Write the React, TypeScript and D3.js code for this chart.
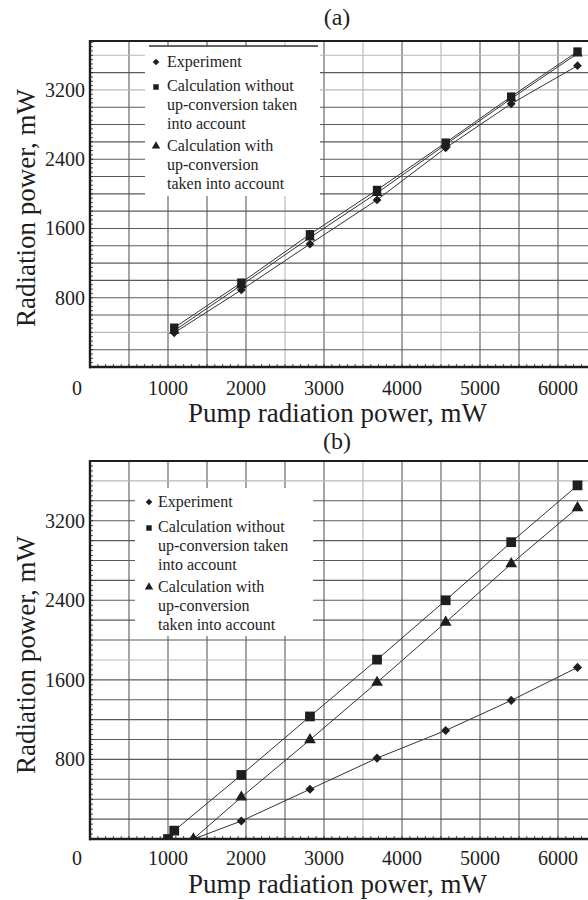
import React from "react";
import * as d3 from "d3";

// ---------- data ----------
const xTickValues = [1000, 2000, 3000, 4000, 5000, 6000];
const yTickValues = [800, 1600, 2400, 3200];

// panel (a)
const pumpA = [1080, 1940, 2820, 3680, 4560, 5400, 6250];
const expA = [395, 890, 1420, 1930, 2530, 3040, 3480];
const noUcA = [454, 974, 1533, 2045, 2591, 3123, 3643];
const ucA = [420, 945, 1495, 2010, 2570, 3100, 3620];

// panel (b)
const pumpExpB = [1330, 1940, 2820, 3680, 4560, 5400, 6250];
const expB = [0, 181, 500, 813, 1091, 1393, 1725];
const pumpNoUcB = [1000, 1080, 1940, 2820, 3680, 4560, 5400, 6250];
const noUcB = [0, 84, 644, 1232, 1803, 2400, 2984, 3555];
const pumpUcB = [1325, 1940, 2820, 3680, 4560, 5400, 6250];
const ucB = [0, 420, 997, 1574, 2178, 2766, 3330];

const legendLabels = [
  ["Experiment"],
  ["Calculation without", "up-conversion taken", "into account"],
  ["Calculation with", "up-conversion", "taken into account"],
];

const FONT = "'Liberation Serif', 'Times New Roman', serif";
const INK = "#1e1e1e";

type Series = { xs: number[]; ys: number[]; kind: "diamond" | "square" | "triangle" };

function markerPath(kind: string, size: number) {
  if (kind === "square") return d3.symbol(d3.symbolSquare, size)() as string;
  if (kind === "triangle") return d3.symbol(d3.symbolTriangle, size)() as string;
  return d3.symbol(d3.symbolSquare, size)() as string;
}

function Marker({ kind, x, y, size }: { kind: string; x: number; y: number; size: number }) {
  const rot = kind === "diamond" ? ` rotate(45)` : "";
  return <path d={markerPath(kind, size)} transform={`translate(${x},${y})${rot}`} fill={INK} />;
}

type PanelProps = {
  id: string;
  label: string;
  labelY: number;
  top: number;
  bottom: number;
  yMax: number;
  series: Series[];
  legend: { x0: number; x1: number; y0: number; y1: number; mx: number; tx: number; rows: number[][]; border: boolean };
  lightV: number[];
  lightH: number[];
  tickLabelY: number;
  titleY: number;
  yTitleCenter: number;
  mSize: { square: number; triangle: number; diamond: number };
};

function Panel(p: PanelProps) {
  const left = 90;
  const right = 597;
  const x = d3.scaleLinear().domain([0, 6500]).range([left, right]);
  const y = d3.scaleLinear().domain([0, p.yMax]).range([p.bottom, p.top]);
  const vGrid = d3.range(500, 6501, 500);
  const hGrid = d3.range(200, p.yMax, 200);
  const xMinor = d3.range(100, 6500, 100);
  const yMinor = d3.range(50, p.yMax, 50);
  const line = d3
    .line<[number, number]>()
    .x((d) => x(d[0]))
    .y((d) => y(d[1]));
  const clipId = `clip-${p.id}`;
  return (
    <g>
      <defs>
        <clipPath id={clipId}>
          <rect x={left} y={p.top} width={right - left} height={p.bottom - p.top} />
        </clipPath>
      </defs>
      <text x={337} y={p.labelY} fontSize={24} textAnchor="middle" fontFamily={FONT} fill={INK}>
        {p.label}
      </text>
      <rect x={left} y={p.top} width={right - left} height={p.bottom - p.top} fill="#fff" />
      <g clipPath={`url(#${clipId})`}>
        {vGrid.map((v) => (
          <line
            key={"v" + v}
            x1={x(v)}
            x2={x(v)}
            y1={p.top}
            y2={p.bottom}
            stroke={p.lightV.includes(v) ? "#b8b8b8" : "#5a5a5a"}
            strokeWidth={1.1}
          />
        ))}
        {hGrid.map((v) => (
          <line
            key={"h" + v}
            x1={left}
            x2={right}
            y1={y(v)}
            y2={y(v)}
            stroke={p.lightH.includes(v) ? "#b8b8b8" : "#5a5a5a"}
            strokeWidth={1.1}
          />
        ))}
        {xMinor.map((v) => (
          <line key={"xm" + v} x1={x(v)} x2={x(v)} y1={p.bottom} y2={p.bottom - 3} stroke={INK} strokeWidth={0.8} />
        ))}
        {yMinor.map((v) => (
          <line key={"ym" + v} x1={left} x2={left + 3} y1={y(v)} y2={y(v)} stroke={INK} strokeWidth={0.8} />
        ))}
        {/* legend background */}
        <rect x={p.legend.x0} y={p.legend.y0} width={p.legend.x1 - p.legend.x0} height={p.legend.y1 - p.legend.y0} fill="#fff" />
        {p.legend.border && (
          <line x1={p.legend.x0 + 4} x2={p.legend.x1 - 2} y1={p.legend.y0} y2={p.legend.y0} stroke="#333" strokeWidth={1.3} />
        )}
        {p.series.map((s, i) => (
          <path
            key={"l" + i}
            d={line(s.xs.map((v, j) => [v, s.ys[j]] as [number, number])) as string}
            fill="none"
            stroke="#333"
            strokeWidth={1}
          />
        ))}
        {p.series.map((s, i) =>
          s.xs.map((v, j) => (
            <Marker key={`m${i}-${j}`} kind={s.kind} x={x(v)} y={y(s.ys[j])} size={p.mSize[s.kind]} />
          ))
        )}
      </g>
      {/* axes frame */}
      <line x1={left} x2={right} y1={p.top} y2={p.top} stroke={INK} strokeWidth={2.2} />
      <line x1={left} x2={left} y1={p.top - 1} y2={p.bottom + 1.2} stroke={INK} strokeWidth={2.4} />
      <line x1={left - 1} x2={right} y1={p.bottom} y2={p.bottom} stroke={INK} strokeWidth={2.4} />
      {/* legend content */}
      {legendLabels.map((rows, i) =>
        rows.map((t, k) => (
          <text
            key={`lt${i}-${k}`}
            x={p.legend.tx}
            y={p.legend.rows[i][k] + 5}
            fontSize={16}
            fontFamily={FONT}
            fill={INK}
          >
            {t}
          </text>
        ))
      )}
      <Marker kind="diamond" x={p.legend.mx} y={p.legend.rows[0][0]} size={22} />
      <Marker kind="square" x={p.legend.mx} y={p.legend.rows[1][0] + 1} size={30} />
      <Marker kind="triangle" x={p.legend.mx} y={p.legend.rows[2][0]} size={30} />
      {/* tick labels */}
      {yTickValues.map((v) => (
        <text key={"yt" + v} x={85} y={y(v) + 7} fontSize={20} textAnchor="end" fontFamily={FONT} fill={INK}>
          {v}
        </text>
      ))}
      <text x={77} y={p.tickLabelY} fontSize={20} textAnchor="middle" fontFamily={FONT} fill={INK}>
        0
      </text>
      {xTickValues.map((v) => (
        <text key={"xt" + v} x={x(v)} y={p.tickLabelY} fontSize={20} textAnchor="middle" fontFamily={FONT} fill={INK}>
          {v}
        </text>
      ))}
      <text x={337.5} y={p.titleY} fontSize={27} textAnchor="middle" fontFamily={FONT} fill={INK}>
        Pump radiation power, mW
      </text>
      <text
        transform={`translate(35,${p.yTitleCenter}) rotate(-90)`}
        fontSize={27}
        textAnchor="middle"
        fontFamily={FONT}
        fill={INK}
      >
        Radiation power, mW
      </text>
    </g>
  );
}

export default function App() {
  return (
    <svg
      width={588}
      height={900}
      viewBox="0 0 588 900"
      style={{ position: "absolute", left: 0, top: 0, background: "#fff" }}
    >
      <rect width={588} height={900} fill="#fff" />
      <Panel
        id="a"
        label="(a)"
        labelY={25}
        top={41}
        bottom={367}
        yMax={3765}
        series={[
          { xs: pumpA, ys: expA, kind: "diamond" },
          { xs: pumpA, ys: ucA, kind: "triangle" },
          { xs: pumpA, ys: noUcA, kind: "square" },
        ]}
        legend={{
          x0: 145,
          x1: 320,
          y0: 46,
          y1: 196,
          mx: 156,
          tx: 167,
          rows: [[62], [86, 105, 124], [146, 165, 184]],
          border: true,
        }}
        lightV={[2500, 3500, 4500]}
        lightH={[400, 3600, 3200]}
        tickLabelY={395}
        titleY={422}
        yTitleCenter={208}
        mSize={{ square: 70, triangle: 48, diamond: 38 }}
      />
      <Panel
        id="b"
        label="(b)"
        labelY={449}
        top={461}
        bottom={839}
        yMax={3800}
        series={[
          { xs: pumpExpB, ys: expB, kind: "diamond" },
          { xs: pumpUcB, ys: ucB, kind: "triangle" },
          { xs: pumpNoUcB, ys: noUcB, kind: "square" },
        ]}
        legend={{
          x0: 135,
          x1: 313,
          y0: 488,
          y1: 636,
          mx: 149,
          tx: 158,
          rows: [[502], [527, 546, 565], [587, 606, 625]],
          border: false,
        }}
        lightV={[3500]}
        lightH={[1800, 3600]}
        tickLabelY={865}
        titleY={893}
        yTitleCenter={655}
        mSize={{ square: 95, triangle: 60, diamond: 42 }}
      />
    </svg>
  );
}
